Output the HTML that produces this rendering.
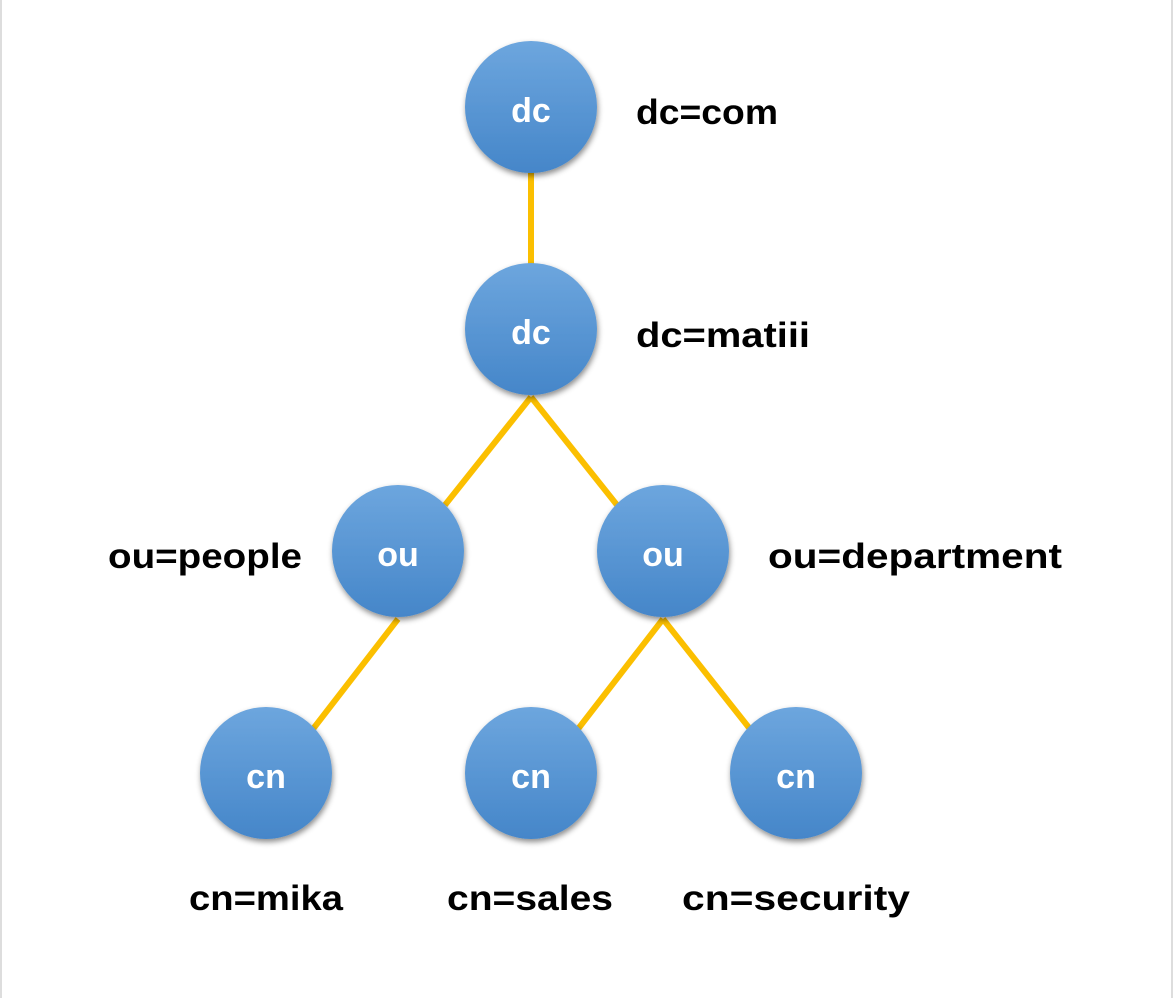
<!DOCTYPE html>
<html><head><style>
html,body{margin:0;padding:0;background:#fff;}
svg{display:block}
text{font-family:"Liberation Sans","DejaVu Sans",sans-serif;}
</style></head><body>
<svg width="1174" height="998" viewBox="0 0 1174 998">
<defs>
<linearGradient id="g" x1="0" y1="0" x2="0" y2="1">
<stop offset="0" stop-color="#6da6de"/><stop offset="1" stop-color="#4586c9"/>
</linearGradient>
<filter id="s" x="-30%" y="-30%" width="160%" height="160%">
<feDropShadow dx="1" dy="3" stdDeviation="3" flood-color="#000" flood-opacity="0.45"/>
</filter>
</defs>
<line x1="1" y1="0" x2="1" y2="998" stroke="#ddd" stroke-width="2"/>
<line x1="1172" y1="0" x2="1172" y2="998" stroke="#ddd" stroke-width="2"/>
<g stroke="#fbbf00" stroke-width="6">
<line x1="531" y1="170" x2="531" y2="268"/>
<line x1="531" y1="397" x2="445" y2="505"/>
<line x1="531" y1="397" x2="617" y2="505"/>
<line x1="398" y1="619" x2="313" y2="729"/>
<line x1="663" y1="619" x2="578" y2="729"/>
<line x1="663" y1="619" x2="750" y2="729"/>
</g>
<g fill="url(#g)" filter="url(#s)">
<circle cx="531" cy="107" r="66"/>
<circle cx="531" cy="329" r="66"/>
<circle cx="398" cy="551" r="66"/>
<circle cx="663" cy="551" r="66"/>
<circle cx="266" cy="773" r="66"/>
<circle cx="531" cy="773" r="66"/>
<circle cx="796" cy="773" r="66"/>
</g>
<g fill="#fff" font-size="34" font-weight="bold" text-anchor="middle">
<text x="531" y="122">dc</text>
<text x="531" y="344">dc</text>
<text x="398" y="566">ou</text>
<text x="663" y="566">ou</text>
<text x="266" y="788">cn</text>
<text x="531" y="788">cn</text>
<text x="796" y="788">cn</text>
</g>
<g fill="#000" font-size="35" font-weight="bold" lengthAdjust="spacingAndGlyphs">
<text x="636" y="124" textLength="142" lengthAdjust="spacingAndGlyphs">dc=com</text>
<text x="636" y="347" textLength="174" lengthAdjust="spacingAndGlyphs">dc=matiii</text>
<text x="108" y="568" textLength="194" lengthAdjust="spacingAndGlyphs">ou=people</text>
<text x="768" y="568" textLength="294" lengthAdjust="spacingAndGlyphs">ou=department</text>
<text x="189" y="910" textLength="154" lengthAdjust="spacingAndGlyphs">cn=mika</text>
<text x="447" y="910" textLength="166" lengthAdjust="spacingAndGlyphs">cn=sales</text>
<text x="682" y="910" textLength="228" lengthAdjust="spacingAndGlyphs">cn=security</text>
</g>
</svg>
</body></html>
